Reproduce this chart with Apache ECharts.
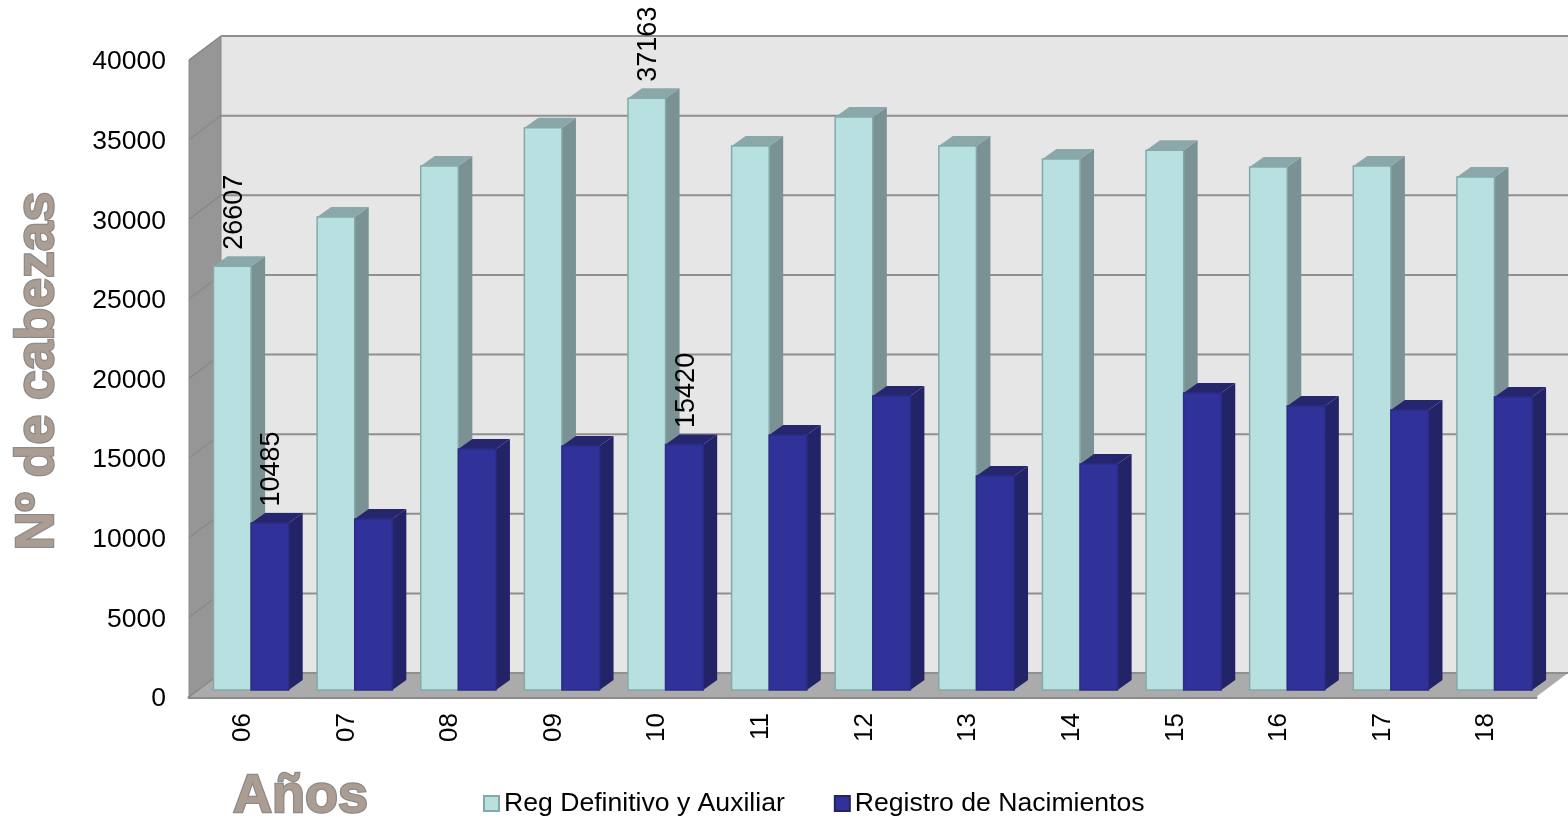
<!DOCTYPE html>
<html>
<head>
<meta charset="utf-8">
<style>html,body{margin:0;padding:0;background:#fff}#chart{width:1568px;height:819px}</style>
<script src="https://cdn.jsdelivr.net/npm/echarts@6/dist/echarts.min.js"></script>
</head>
<body>
<div id="chart"></div>
<script>
const years = ['06','07','08','09','10','11','12','13','14','15','16','17','18'];
const regDefinitivo = [26607,29700,32900,35300,37163,34160,35980,34160,33340,33900,32840,32900,32210];
const regNacimientos = [10485,10740,15130,15320,15420,16010,18460,13440,14190,18650,17830,17580,18400];
const valueTicks = [0,5000,10000,15000,20000,25000,30000,35000,40000];
const labelledYears = ['06','10'];

const FONT = '"Liberation Sans", Arial, sans-serif';
const WALL_DX = 32, WALL_DY = 24;
const BAR_W = 37.6, BAR_DX = 14, BAR_DY = 10, BAR_LIFT = 7, BAR_LEFT = -27.3;
const STONE = '#ab9d92', STONE_EDGE = '#8b8b8b';

function renderWalls(params, api) {
  const right = params.coordSys.x + params.coordSys.width;
  const left = params.coordSys.x;
  const children = [];
  if (params.dataIndex === 0) {
    const top = api.coord([0, 40000])[1], bot = api.coord([0, 0])[1];
    children.push({type:'polygon', shape:{points:[[left+WALL_DX,top-WALL_DY],[right+WALL_DX,top-WALL_DY],[right+WALL_DX,bot-WALL_DY],[left+WALL_DX,bot-WALL_DY]]}, style:{fill:'#e6e6e6'}});
    children.push({type:'polygon', shape:{points:[[left,top],[left+WALL_DX,top-WALL_DY],[left+WALL_DX,bot-WALL_DY],[left,bot]]}, style:{fill:'#969696', stroke:'#8a8a8a', lineWidth:1}});
    children.push({type:'polygon', shape:{points:[[left,bot],[left+WALL_DX,bot-WALL_DY],[right+WALL_DX,bot-WALL_DY],[right,bot]]}, style:{fill:'#ababab'}});
  }
  return {type:'group', children: children};
}
function renderGrid(params, api) {
  const v = api.value(1);
  const right = params.coordSys.x + params.coordSys.width;
  const left = params.coordSys.x;
  const y = api.coord([0, v])[1];
  return {type:'group', children:[
    {type:'line', shape:{x1:left+WALL_DX,y1:y-WALL_DY,x2:right+WALL_DX,y2:y-WALL_DY}, style:{stroke:'#8f8f8f', lineWidth:2}},
    {type:'line', shape:{x1:left,y1:y,x2:left+WALL_DX,y2:y-WALL_DY}, style:{stroke:'#868686', lineWidth:1.2}}
  ]};
}
function barRenderer(seriesPos, cols) {
  return function (params, api) {
    const idx = api.value(0), v = api.value(1);
    const cx = api.coord([idx, 0])[0];
    const x0 = cx + BAR_LEFT + seriesPos * BAR_W, x1 = x0 + BAR_W;
    const yb = api.coord([idx, 0])[1] - BAR_LIFT, yt = api.coord([idx, v])[1] - BAR_LIFT;
    const children = [
      {type:'polygon', shape:{points:[[x1,yt],[x1+BAR_DX,yt-BAR_DY],[x1+BAR_DX,yb-BAR_DY],[x1,yb]]}, style:{fill:cols.side}},
      {type:'polygon', shape:{points:[[x0,yt],[x0+BAR_DX,yt-BAR_DY],[x1+BAR_DX,yt-BAR_DY],[x1,yt]]}, style:{fill:cols.top}},
      {type:'rect', shape:{x:x0,y:yt,width:BAR_W,height:yb-yt}, style:{fill:cols.front, stroke:cols.border, lineWidth:1.5}}
    ];
    if (labelledYears.indexOf(years[idx]) >= 0) {
      children.push({type:'text', x:x0+BAR_W/2+2, y:yt-16.5, rotation:Math.PI/2,
        style:{text:String(v), fontFamily:FONT, fontSize:27, fill:'#000', align:'left', verticalAlign:'middle'}});
    }
    return {type:'group', children: children};
  };
}
const toPairs = arr => arr.map((v,i)=>[i,v]);

const chart = echarts.init(document.getElementById('chart'), null, {renderer:'canvas'});
chart.setOption({
  animation:false,
  backgroundColor:'#ffffff',
  title:{text:'Años', left:228, top:765, textStyle:{fontFamily:FONT, fontSize:54, fontWeight:'bold', color:STONE, textBorderColor:STONE_EDGE, textBorderWidth:2.5}},
  graphic:[{type:'text', x:38, y:371, rotation:Math.PI/2, z:10,
    style:{text:'Nº de cabezas', fontFamily:FONT, fontSize:53.5, fontWeight:'bold', fill:STONE, stroke:STONE_EDGE, lineWidth:2.5, align:'center', verticalAlign:'middle'}}],
  legend:{left:478, top:785, itemWidth:15, itemHeight:15, itemGap:49, icon:'rect',
    data:['Reg Definitivo y Auxiliar','Registro de Nacimientos'],
    textStyle:{fontFamily:FONT, fontSize:26.6, color:'#000'}},
  grid:{left:189, right:32, top:60, bottom:122},
  xAxis:{type:'category', data:years, axisTick:{show:false},
    axisLine:{show:true, lineStyle:{color:'#8a8a8a', width:3}},
    axisLabel:{rotate:90, margin:16, fontFamily:FONT, fontSize:26, color:'#000', verticalAlign:'top', lineHeight:4}},
  yAxis:{type:'value', min:0, max:40000, interval:5000,
    axisLine:{show:false}, axisTick:{show:false}, splitLine:{show:false},
    axisLabel:{margin:23, fontFamily:FONT, fontSize:26.5, color:'#000', verticalAlign:'top', lineHeight:4,
      formatter:function(v){return valueTicks.indexOf(v)>=0?String(v):'';}}},
  series:[
    {type:'custom', name:'walls', z:1, silent:true, data:toPairs(valueTicks), renderItem:renderWalls},
    {type:'custom', name:'grid', z:2, silent:true, data:toPairs(valueTicks), renderItem:renderGrid},
    {type:'custom', name:'Reg Definitivo y Auxiliar', z:3, data:toPairs(regDefinitivo),
      itemStyle:{color:'#b9e0e1', borderColor:'#85a9a9', borderWidth:1},
      renderItem:barRenderer(0,{front:'#b9e0e1',side:'#7a9293',top:'#8aa8a9',border:'#85a9a9'})},
    {type:'custom', name:'Registro de Nacimientos', z:4, data:toPairs(regNacimientos),
      itemStyle:{color:'#31319a', borderColor:'#232367', borderWidth:1},
      renderItem:barRenderer(1,{front:'#31319a',side:'#232367',top:'#26266e',border:'#2b2b88'})}
  ]
});
</script>
</body>
</html>
